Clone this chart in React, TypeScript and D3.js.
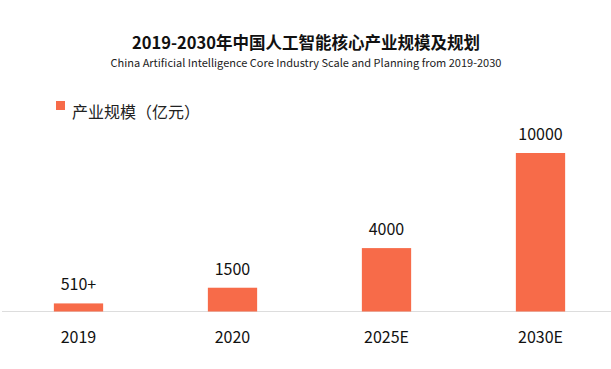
import React, { useEffect, useRef } from 'react';
import * as d3 from 'd3';

const categories = ['2019', '2020', '2025E', '2030E'];
const values = [510, 1500, 4000, 10000];
const valueLabels = ['510+', '1500', '4000', '10000'];
const title = '2019-2030年中国人工智能核心产业规模及规划';
const subtitle = 'China Artificial Intelligence Core Industry Scale and Planning from 2019-2030';
const legendLabel = '产业规模（亿元）';

const width = 611;
const height = 369;
const barColor = '#F76B49';
const font = '"Noto Sans CJK SC", "Noto Sans", sans-serif';

export default function App() {
  const ref = useRef<SVGSVGElement>(null);

  useEffect(() => {
    const svg = d3.select(ref.current);
    svg.selectAll('*').remove();

    const margin = { top: 153, bottom: 58 };
    const baseline = height - margin.bottom + 0.5;

    const x = d3.scaleBand()
      .domain(categories)
      .range([1.5, 617.5])
      .paddingInner(0.68)
      .paddingOuter(0.34);

    const y = d3.scaleLinear()
      .domain([0, 10000])
      .range([baseline, margin.top]);

    svg.append('rect')
      .attr('width', width)
      .attr('height', height)
      .attr('fill', '#fff');

    // titles
    svg.append('text')
      .attr('x', 306)
      .attr('y', 49)
      .attr('text-anchor', 'middle')
      .attr('font-size', 16.5)
      .attr('font-weight', 'bold')
      .attr('fill', '#111')
      .text(title);

    svg.append('text')
      .attr('x', 306)
      .attr('y', 67)
      .attr('text-anchor', 'middle')
      .attr('font-size', 11)
      .attr('fill', '#222')
      .text(subtitle);

    // legend
    svg.append('rect')
      .attr('x', 56)
      .attr('y', 101)
      .attr('width', 9)
      .attr('height', 9)
      .attr('fill', barColor);

    svg.append('text')
      .attr('x', 72)
      .attr('y', 118)
      .attr('font-size', 16)
      .attr('fill', '#222')
      .text(legendLabel);

    // axis line
    svg.append('line')
      .attr('x1', 2)
      .attr('x2', width)
      .attr('y1', baseline)
      .attr('y2', baseline)
      .attr('stroke', '#ddd')
      .attr('stroke-width', 1);

    // bars
    svg.append('g')
      .selectAll('rect')
      .data(values)
      .join('rect')
      .attr('x', (d, i) => x(categories[i])!)
      .attr('width', x.bandwidth())
      .attr('y', d => y(d))
      .attr('height', d => baseline - y(d))
      .attr('fill', barColor);

    // value labels
    svg.append('g')
      .selectAll('text')
      .data(values)
      .join('text')
      .attr('x', (d, i) => x(categories[i])! + x.bandwidth() / 2)
      .attr('y', d => y(d) - 13)
      .attr('text-anchor', 'middle')
      .attr('font-size', 16)
      .attr('fill', '#111')
      .text((d, i) => valueLabels[i]);

    // category labels
    svg.append('g')
      .selectAll('text')
      .data(categories)
      .join('text')
      .attr('x', d => x(d)! + x.bandwidth() / 2)
      .attr('y', 343)
      .attr('text-anchor', 'middle')
      .attr('font-size', 16)
      .attr('fill', '#111')
      .text(d => d);
  }, []);

  return (
    <svg
      ref={ref}
      width={width}
      height={height}
      style={{ position: 'absolute', left: 0, top: 0, fontFamily: font }}
    />
  );
}
